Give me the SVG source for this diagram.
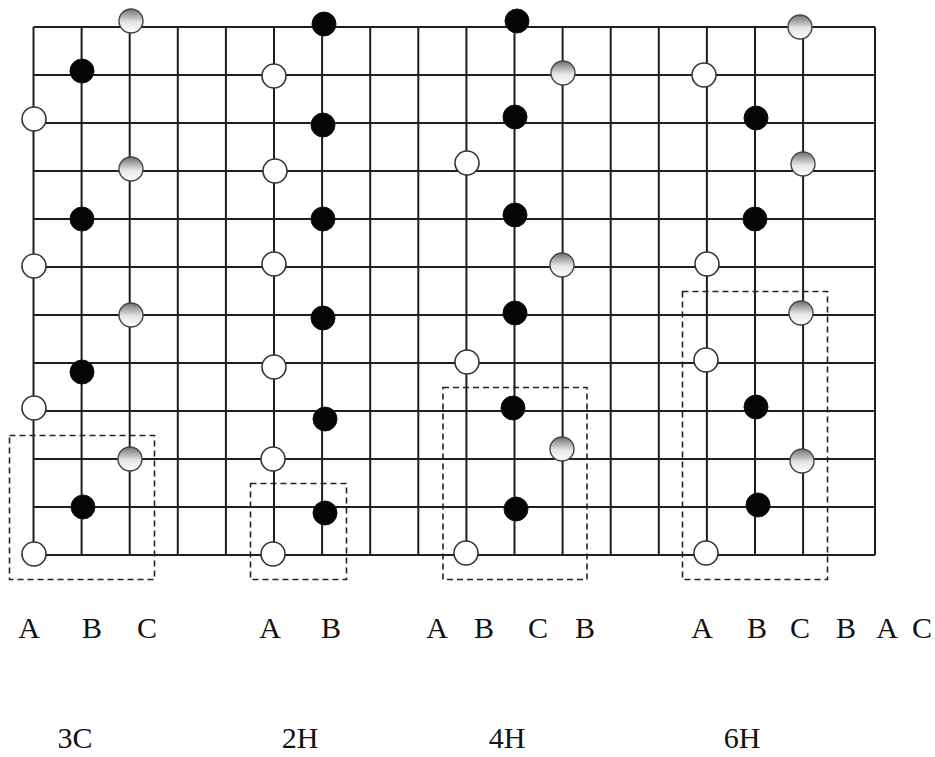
<svg xmlns="http://www.w3.org/2000/svg" width="935" height="757" viewBox="0 0 935 757">
<defs>
<linearGradient id="gray" x1="0" y1="0" x2="0" y2="1">
<stop offset="0" stop-color="#707070"/>
<stop offset="0.55" stop-color="#e6e6e6"/>
<stop offset="1" stop-color="#ffffff"/>
</linearGradient>
</defs>
<style>
.grid{stroke:#1e1e1e;stroke-width:2;fill:none}
.box{stroke:#222;stroke-width:1.6;fill:none;stroke-dasharray:6 4}
.w{fill:#fff;stroke:#333;stroke-width:1.6}
.k{fill:#050505;stroke:#111;stroke-width:1}
.g{fill:url(#gray);stroke:#444;stroke-width:1.4}
.t{font-family:"Liberation Serif","Times New Roman",serif;font-size:30px;fill:#111;text-anchor:middle}
</style>
<rect width="935" height="757" fill="#fff"/>
<g id="connectors">
<path class="grid" d="M33.5 27V555M81.6 27V555M129.7 27V555M177.8 27V555M225.9 27V555M274 27V555M322.1 27V555M370.2 27V555M418.3 27V555M466.4 27V555M514.5 27V555M562.6 27V555M610.7 27V555M658.8 27V555M706.9 27V555M755 27V555M803.1 27V555M875 27V555"/>
<path class="grid" d="M33.5 27H875M33.5 75H875M33.5 123H875M33.5 171H875M33.5 219H875M33.5 267H875M33.5 315H875M33.5 363H875M33.5 411H875M33.5 459H875M33.5 507H875M33.5 555H875"/>
<rect class="box" x="9.5" y="435.5" width="145" height="144"/>
<rect class="box" x="250.5" y="483.5" width="96" height="96"/>
<rect class="box" x="443" y="387.5" width="144" height="192"/>
<rect class="box" x="682.5" y="291.5" width="145" height="288"/>
</g>
<g id="s3C">
<g id="c3-A1"><circle class="w" cx="34" cy="119" r="12"/></g>
<g id="c3-A2"><circle class="w" cx="34" cy="266" r="12"/></g>
<g id="c3-A3"><circle class="w" cx="34" cy="408" r="12"/></g>
<g id="c3-A4"><circle class="w" cx="34" cy="554" r="12"/></g>
<g id="c3-B1"><circle class="k" cx="82" cy="71" r="12"/></g>
<g id="c3-B2"><circle class="k" cx="82" cy="219" r="12"/></g>
<g id="c3-B3"><circle class="k" cx="82" cy="372" r="12"/></g>
<g id="c3-B4"><circle class="k" cx="83" cy="507" r="12"/></g>
<g id="c3-C1"><circle class="g" cx="131" cy="21" r="12"/></g>
<g id="c3-C2"><circle class="g" cx="131" cy="169" r="12"/></g>
<g id="c3-C3"><circle class="g" cx="131" cy="315" r="12"/></g>
<g id="c3-C4"><circle class="g" cx="130" cy="459" r="12"/></g>
</g>
<g id="s2H">
<g id="h2-A1"><circle class="w" cx="274" cy="76" r="12"/></g>
<g id="h2-A2"><circle class="w" cx="275" cy="171" r="12"/></g>
<g id="h2-A3"><circle class="w" cx="274" cy="264" r="12"/></g>
<g id="h2-A4"><circle class="w" cx="274" cy="367" r="12"/></g>
<g id="h2-A5"><circle class="w" cx="273" cy="459" r="12"/></g>
<g id="h2-A6"><circle class="w" cx="273" cy="554" r="12"/></g>
<g id="h2-B1"><circle class="k" cx="324" cy="24" r="12"/></g>
<g id="h2-B2"><circle class="k" cx="323" cy="125" r="12"/></g>
<g id="h2-B3"><circle class="k" cx="323" cy="219" r="12"/></g>
<g id="h2-B4"><circle class="k" cx="323" cy="318" r="12"/></g>
<g id="h2-B5"><circle class="k" cx="325" cy="419" r="12"/></g>
<g id="h2-B6"><circle class="k" cx="325" cy="513" r="12"/></g>
</g>
<g id="s4H">
<g id="h4-A1"><circle class="w" cx="467" cy="163" r="12"/></g>
<g id="h4-A2"><circle class="w" cx="467" cy="362" r="12"/></g>
<g id="h4-A3"><circle class="w" cx="466" cy="553" r="12"/></g>
<g id="h4-B1"><circle class="k" cx="517" cy="21" r="12"/></g>
<g id="h4-B2"><circle class="k" cx="515" cy="117" r="12"/></g>
<g id="h4-B3"><circle class="k" cx="515" cy="215" r="12"/></g>
<g id="h4-B4"><circle class="k" cx="515" cy="313" r="12"/></g>
<g id="h4-B5"><circle class="k" cx="513" cy="408" r="12"/></g>
<g id="h4-B6"><circle class="k" cx="516" cy="509" r="12"/></g>
<g id="h4-C1"><circle class="g" cx="563" cy="73" r="12"/></g>
<g id="h4-C2"><circle class="g" cx="562" cy="265" r="12"/></g>
<g id="h4-C3"><circle class="g" cx="562" cy="449" r="12"/></g>
</g>
<g id="s6H">
<g id="h6-A1"><circle class="w" cx="704" cy="75" r="12"/></g>
<g id="h6-A2"><circle class="w" cx="707" cy="264" r="12"/></g>
<g id="h6-A3"><circle class="w" cx="706" cy="360" r="12"/></g>
<g id="h6-A4"><circle class="w" cx="706" cy="553" r="12"/></g>
<g id="h6-B1"><circle class="k" cx="756" cy="118" r="12"/></g>
<g id="h6-B2"><circle class="k" cx="755" cy="219" r="12"/></g>
<g id="h6-B3"><circle class="k" cx="756" cy="407" r="12"/></g>
<g id="h6-B4"><circle class="k" cx="758" cy="505" r="12"/></g>
<g id="h6-C1"><circle class="g" cx="800" cy="27" r="12"/></g>
<g id="h6-C2"><circle class="g" cx="803" cy="164" r="12"/></g>
<g id="h6-C3"><circle class="g" cx="801" cy="313" r="12"/></g>
<g id="h6-C4"><circle class="g" cx="802" cy="461" r="12"/></g>
</g>
<g id="labels">
<text class="t" x="29" y="638">A</text>
<text class="t" x="92" y="638">B</text>
<text class="t" x="147" y="638">C</text>
<text class="t" x="270" y="638">A</text>
<text class="t" x="331" y="638">B</text>
<text class="t" x="437" y="638">A</text>
<text class="t" x="484" y="638">B</text>
<text class="t" x="538" y="638">C</text>
<text class="t" x="585" y="638">B</text>
<text class="t" x="702" y="638">A</text>
<text class="t" x="757" y="638">B</text>
<text class="t" x="800" y="638">C</text>
<text class="t" x="846" y="638">B</text>
<text class="t" x="887" y="638">A</text>
<text class="t" x="922" y="638">C</text>
<text class="t" x="75" y="748">3C</text>
<text class="t" x="300" y="748">2H</text>
<text class="t" x="507" y="748">4H</text>
<text class="t" x="742" y="748">6H</text>
</g>
</svg>
